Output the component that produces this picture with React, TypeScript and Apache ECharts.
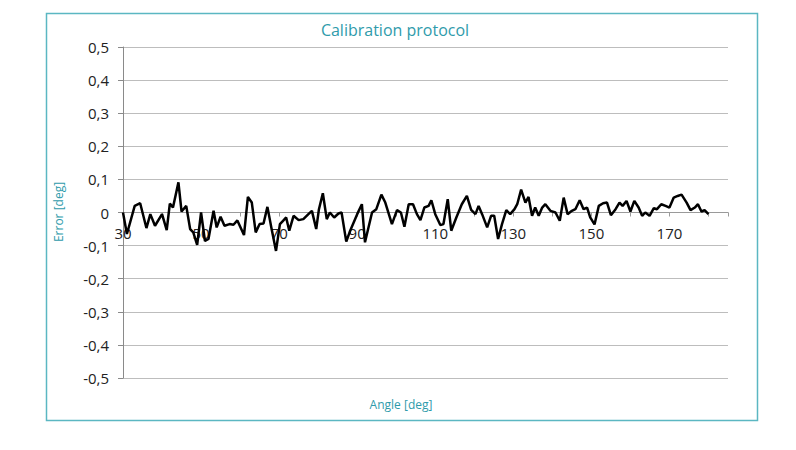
import React, { useEffect, useRef } from "react";
import * as echarts from "echarts";

const angles: number[] = [
  30, 31, 33, 34.4, 36, 37, 38.2, 40, 41.2, 42, 42.8, 44.2, 45, 46.2, 47.2, 48, 49, 50, 51, 51.9,
  53.2, 54, 55, 56, 57.3, 58.3, 59.3, 61, 62, 63, 64, 65, 66, 67, 68, 69.2, 70.2, 71, 71.8, 72.6,
  73.7, 75, 76.2, 77.5, 78.4, 79.5, 80.2, 81.2, 82.2, 83, 84.1, 85.2, 86, 87.2, 88.2, 90, 91.2, 92,
  93.8, 94.9, 96.2, 97.2, 98.9, 100.2, 101.2, 102.1, 103.2, 104.3, 105.3, 106.2, 107.2, 108.3, 109,
  110, 111.3, 112.1, 113.2, 114.1, 115.4, 116.8, 118.1, 119.2, 120.3, 121.1, 122, 123.3, 124.3,
  125.1, 126.1, 127.1, 128.2, 129.2, 130.3, 131, 132, 133.1, 133.9, 134.8, 135.6, 136.5, 137.4,
  138.2, 139.5, 140.8, 141.9, 142.9, 143.9, 145, 145.9, 147, 148, 148.9, 149.7, 150.8, 151.9, 153,
  154, 155, 156.2, 157.2, 158, 159, 160, 161, 162.1, 163, 163.8, 164.9, 166, 166.8, 167.9, 169, 170,
  171.1, 172.1, 173.1, 174.4, 175.4, 176.5, 177.3, 178.2, 179, 180,
];

const errors: number[] = [
  0.0, -0.065, 0.02, 0.028, -0.047, -0.005, -0.04, -0.005, -0.053, 0.027, 0.015, 0.091, 0.003, 0.02,
  -0.05, -0.06, -0.098, 0.0, -0.086, -0.08, 0.005, -0.045, -0.013, -0.04, -0.035, -0.037, -0.024,
  -0.068, 0.047, 0.03, -0.06, -0.035, -0.033, 0.017, -0.045, -0.116, -0.035, -0.025, -0.015, -0.055,
  -0.01, -0.023, -0.02, -0.005, 0.005, -0.05, 0.01, 0.058, -0.02, 0.0, -0.015, -0.003, 0.0, -0.088,
  -0.055, -0.005, 0.025, -0.09, 0.0, 0.01, 0.054, 0.03, -0.035, 0.007, 0.0, -0.043, 0.025, 0.025,
  -0.005, -0.023, 0.015, 0.02, 0.037, -0.005, -0.038, -0.035, 0.04, -0.055, -0.015, 0.025, 0.05,
  0.008, -0.005, 0.02, -0.005, -0.045, -0.01, -0.01, -0.08, -0.035, 0.007, -0.005, 0.01, 0.025, 0.069,
  0.03, 0.047, -0.01, 0.015, -0.01, 0.015, 0.025, 0.005, 0.0, -0.025, 0.045, -0.005, 0.005, 0.01,
  0.037, 0.01, 0.015, -0.015, -0.036, 0.02, 0.028, 0.03, -0.008, 0.01, 0.03, 0.02, 0.035, 0.003,
  0.035, 0.015, -0.01, 0.0, -0.01, 0.013, 0.01, 0.025, 0.02, 0.015, 0.045, 0.05, 0.054, 0.03, 0.007,
  0.015, 0.025, 0.003, 0.007, -0.005,
];

const xLabels: number[] = [30, 50, 70, 90, 110, 130, 150, 170];
const title = "Calibration protocol";
const xName = "Angle [deg]";
const yName = "Error [deg]";

export default function App() {
  const ref = useRef<HTMLDivElement>(null);
  useEffect(() => {
    document.body.style.margin = "0";
    if (!ref.current) return;
    const chart = echarts.init(ref.current, undefined, { renderer: "svg" });
    const teal = "#2f9bab";
    const font = "'Open Sans', 'Noto Sans', sans-serif";
    const gridTop = 47;
    const gridBottom = 72;
    const plotH = 450 - gridTop - gridBottom;
    chart.setOption({
      animation: false,
      backgroundColor: "#ffffff",
      textStyle: { fontFamily: font },
      grid: { left: 123, right: 68, top: gridTop, bottom: gridBottom, containLabel: false },
      graphic: [
        {
          type: "rect",
          shape: { x: 46.5, y: 13.5, width: 711, height: 407 },
          style: { fill: "none", stroke: "#5bb7c2", lineWidth: 1.5 },
          z: -1,
        },
        {
          type: "text",
          x: 395,
          y: 30,
          style: { text: title, fill: teal, font: `16px ${font}`, textAlign: "center", textVerticalAlign: "middle" },
        },
        {
          type: "text",
          x: 401,
          y: 404,
          style: { text: xName, fill: teal, font: `12px ${font}`, textAlign: "center", textVerticalAlign: "middle" },
        },
        {
          type: "text",
          x: 58,
          y: 212,
          rotation: Math.PI / 2,
          style: { text: yName, fill: teal, font: `12px ${font}`, textAlign: "center", textVerticalAlign: "middle" },
        },
      ],
      xAxis: {
        type: "value",
        position: "bottom",
        offset: -plotH / 2,
        min: 30,
        max: 185,
        interval: 10,
        axisLine: { show: true, onZero: false, lineStyle: { color: "#9a9a9a", width: 1 } },
        axisTick: { show: true, length: 4, lineStyle: { color: "#9a9a9a" } },
        splitLine: { show: false },
        axisLabel: {
          color: "#222",
          fontSize: 15,
          margin: 13,
          fontFamily: font,
          formatter: (v: number) => (xLabels.indexOf(v) >= 0 ? String(v) : ""),
        },
      },
      yAxis: {
        type: "value",
        min: -0.5,
        max: 0.5,
        interval: 0.1,
        axisLine: { show: true, lineStyle: { color: "#8a8a8a", width: 1 } },
        axisTick: { show: true, length: 5, lineStyle: { color: "#8a8a8a" } },
        splitLine: { show: true, lineStyle: { color: "#bdbdbd", width: 1 } },
        axisLabel: {
          color: "#222",
          fontSize: 15,
          margin: 14,
          fontFamily: font,
          formatter: (v: number) => {
            const r = Math.round(v * 10) / 10;
            if (r === 0) return "0";
            return r.toFixed(1).replace(".", ",");
          },
        },
      },
      series: [
        {
          type: "line",
          data: angles.map((a, i) => [a, errors[i]]),
          showSymbol: false,
          symbol: "none",
          lineStyle: { color: "#000000", width: 2.5 },
          z: 5,
        },
      ],
    });
    return () => chart.dispose();
  }, []);
  return <div ref={ref} style={{ width: 796, height: 450 }} />;
}
